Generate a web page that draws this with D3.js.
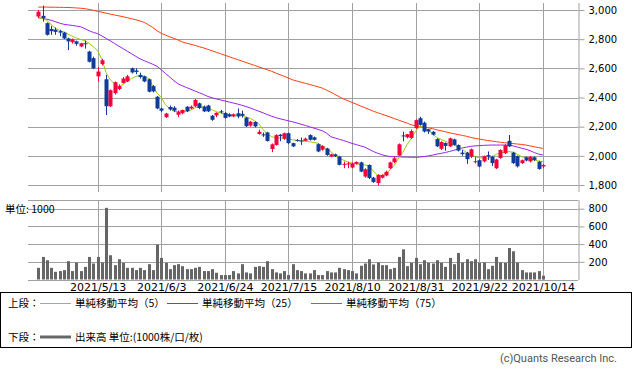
<!DOCTYPE html>
<html><head><meta charset="utf-8">
<script src="https://cdn.jsdelivr.net/npm/d3@7"></script>
<style>body{margin:0;background:#fff}svg{display:block}</style>
</head><body><svg id="c" width="633" height="373"></svg>
<script>
const dates = [
"2021/4/19","2021/4/20","2021/4/21","2021/4/22","2021/4/23","2021/4/26","2021/4/27","2021/4/28","2021/4/30",
"2021/5/6","2021/5/7","2021/5/10","2021/5/11","2021/5/12","2021/5/13","2021/5/14","2021/5/17","2021/5/18","2021/5/19","2021/5/20","2021/5/21","2021/5/24","2021/5/25","2021/5/26","2021/5/27","2021/5/28","2021/5/31",
"2021/6/1","2021/6/2","2021/6/3","2021/6/4","2021/6/7","2021/6/8","2021/6/9","2021/6/10","2021/6/11","2021/6/14","2021/6/15","2021/6/16","2021/6/17","2021/6/18","2021/6/21","2021/6/22","2021/6/23","2021/6/24","2021/6/25","2021/6/28","2021/6/29","2021/6/30",
"2021/7/1","2021/7/2","2021/7/5","2021/7/6","2021/7/7","2021/7/8","2021/7/9","2021/7/12","2021/7/13","2021/7/14","2021/7/15","2021/7/16","2021/7/19","2021/7/20","2021/7/21","2021/7/26","2021/7/27","2021/7/28","2021/7/29","2021/7/30",
"2021/8/2","2021/8/3","2021/8/4","2021/8/5","2021/8/6","2021/8/10","2021/8/11","2021/8/12","2021/8/13","2021/8/16","2021/8/17","2021/8/18","2021/8/19","2021/8/20","2021/8/23","2021/8/24","2021/8/25","2021/8/26","2021/8/27","2021/8/30","2021/8/31",
"2021/9/1","2021/9/2","2021/9/3","2021/9/6","2021/9/7","2021/9/8","2021/9/9","2021/9/10","2021/9/13","2021/9/14","2021/9/15","2021/9/16","2021/9/17","2021/9/21","2021/9/22","2021/9/24","2021/9/27","2021/9/28","2021/9/29","2021/9/30",
"2021/10/1","2021/10/4","2021/10/5","2021/10/6","2021/10/7","2021/10/8","2021/10/11","2021/10/12","2021/10/13","2021/10/14"];

const open  = [2955,2960,2910,2870,2865,2855,2845,2805,2780,2785,2750,2772,2715,2670,2545,2630,2525,2340,2430,2458,2500,2510,2600,2585,2555,2545,2525,2478,2405,2325,2265,2335,2330,2282,2292,2337,2325,2340,2360,2337,2345,2275,2277,2305,2294,2285,2270,2292,2288,2262,2208,2232,2150,2147,2160,2047,2075,2145,2118,2155,2087,2108,2105,2103,2142,2127,2080,2042,2050,1995,2010,1995,1940,1942,1920,1945,1955,1858,1937,1850,1813,1850,1865,1915,1957,2002,2140,2127,2122,2190,2258,2227,2182,2165,2115,2048,2088,2065,2113,2074,2022,2022,1995,1958,1970,1962,2005,1994,1915,1985,2018,2103,2022,1998,1950,1990,1962,1990,1960,1927];
const high  = [3000,3030,2915,2890,2880,2865,2850,2810,2805,2790,2775,2790,2720,2680,2610,2665,2555,2455,2510,2490,2540,2555,2605,2600,2570,2550,2530,2485,2410,2330,2295,2345,2340,2310,2318,2340,2345,2390,2365,2345,2350,2280,2298,2315,2300,2292,2290,2325,2310,2268,2240,2238,2180,2160,2165,2085,2148,2150,2160,2160,2090,2115,2125,2125,2148,2132,2085,2072,2055,2015,2015,2000,1960,1960,1955,1962,1960,1915,1942,1855,1875,1872,1898,1960,1995,2085,2165,2150,2180,2250,2268,2235,2185,2170,2120,2100,2092,2125,2118,2078,2040,2028,2050,1995,1975,2002,2030,2000,1980,2045,2080,2143,2028,2002,1975,1995,1998,1996,1965,1945];
const low   = [2945,2920,2825,2830,2830,2820,2800,2725,2770,2755,2745,2735,2640,2595,2510,2620,2280,2335,2420,2450,2495,2505,2565,2560,2530,2505,2435,2435,2320,2300,2260,2310,2300,2265,2285,2300,2320,2335,2320,2300,2300,2240,2265,2290,2255,2265,2265,2258,2262,2198,2200,2195,2145,2130,2098,2025,2070,2100,2110,2080,2060,2098,2075,2100,2105,2105,2025,2035,2000,1990,1992,1935,1915,1915,1915,1940,1888,1850,1840,1815,1797,1845,1860,1910,1950,2000,2100,2120,2115,2185,2208,2160,2150,2140,2060,2040,2035,2060,2070,2030,2000,1945,1985,1948,1922,1955,1972,1930,1910,1980,2012,2060,1945,1920,1945,1962,1955,1965,1905,1915];
const close = [2988,2945,2830,2855,2850,2845,2805,2785,2800,2768,2772,2765,2645,2600,2578,2655,2340,2450,2505,2478,2530,2545,2572,2575,2540,2510,2440,2442,2325,2310,2290,2318,2310,2300,2314,2305,2337,2383,2328,2305,2305,2247,2295,2300,2260,2270,2285,2270,2275,2203,2234,2202,2165,2140,2102,2079,2142,2135,2155,2087,2065,2103,2100,2118,2110,2110,2030,2068,2006,2010,1998,1938,1945,1948,1948,1958,1892,1908,1848,1820,1868,1868,1890,1955,1983,2079,2135,2148,2170,2245,2212,2167,2167,2145,2065,2095,2068,2120,2075,2036,2012,1977,2045,1963,1927,1998,1995,1950,1975,2040,2073,2065,1950,1928,1970,1968,1993,1972,1910,1937];
const volume = [132,255,218,132,87,95,106,207,95,192,95,143,255,181,255,192,810,274,162,229,188,132,132,106,132,106,173,106,394,244,188,117,162,173,151,117,117,132,143,95,95,117,76,50,50,50,95,69,173,80,69,143,151,143,207,117,80,69,95,50,173,106,95,69,69,106,50,50,95,80,80,132,117,106,95,69,155,181,229,170,192,162,162,117,132,255,341,151,188,244,173,218,188,181,218,188,143,244,173,300,192,229,207,229,188,192,117,155,255,192,188,356,319,192,106,80,80,80,95,43];
const ma5 = [2947,2940,2931,2900,2875,2860,2850,2835,2820,2808,2798,2790,2770,2748,2720,2660,2570,2520,2495,2475,2490,2515,2530,2545,2550,2545,2530,2480,2430,2400,2350,2325,2305,2303,2305,2307,2315,2330,2337,2335,2330,2315,2303,2295,2285,2280,2278,2277,2275,2265,2257,2240,2220,2180,2150,2131,2125,2122,2120,2115,2110,2106,2103,2100,2097,2092,2086,2065,2048,2030,2000,1985,1970,1958,1950,1945,1940,1938,1930,1895,1868,1865,1880,1905,1937,1985,2025,2080,2120,2170,2205,2195,2177,2150,2125,2112,2100,2088,2075,2063,2045,2022,2010,1995,1987,1985,1983,1995,2010,2020,2025,2029,2025,2010,1994,1985,1978,1971,1965,1960];
const ma25 = [2947,2942,2937,2930,2920,2910,2902,2898,2894,2890,2885,2872,2858,2846,2838,2822,2805,2788,2770,2752,2735,2717,2700,2682,2665,2652,2640,2628,2614,2590,2565,2540,2515,2493,2480,2468,2456,2444,2432,2420,2407,2398,2390,2383,2376,2369,2362,2355,2347,2338,2328,2317,2306,2295,2283,2272,2262,2254,2247,2240,2233,2225,2217,2208,2199,2190,2181,2172,2155,2131,2122,2113,2105,2095,2085,2077,2068,2060,2045,2030,2018,2008,2000,1995,1994,1993,1992,1991,1990,1990,1992,1995,2000,2005,2012,2017,2023,2030,2038,2046,2054,2060,2065,2068,2070,2072,2073,2074,2074,2074,2074,2073,2068,2060,2052,2045,2035,2022,2012,2006];
const ma75 = [3020,3020,3020,3019,3019,3018,3018,3017,3016,3014,3012,3009,3004,2998,2991,2985,2978,2972,2966,2960,2954,2947,2940,2933,2925,2915,2898,2880,2858,2840,2828,2816,2805,2794,2780,2772,2765,2757,2748,2740,2730,2720,2710,2700,2690,2680,2670,2660,2650,2640,2630,2620,2610,2600,2590,2580,2568,2556,2545,2533,2521,2513,2505,2497,2489,2481,2473,2464,2450,2436,2420,2405,2390,2378,2366,2354,2342,2330,2318,2306,2296,2286,2276,2266,2255,2245,2234,2224,2212,2206,2202,2198,2192,2186,2178,2172,2165,2158,2152,2146,2140,2134,2126,2120,2115,2110,2105,2101,2097,2093,2090,2087,2084,2081,2078,2074,2068,2062,2056,2051];

const priceTicks = [1800,2000,2200,2400,2600,2800,3000];
const volumeTicks = [200,400,600,800];
const dateTicks = ["2021/5/13","2021/6/3","2021/6/24","2021/7/15","2021/8/10","2021/8/31","2021/9/22","2021/10/14"];

const upColor = "#f5003d", downColor = "#0f3c9b", gridColor = "#a0a0a0";
const maColors = ["#99cc00", "#9922ee", "#ff4010"];
const left = 28, right = 578;

const svg = d3.select("#c");
const x = d3.scalePoint().domain(dates).range([38.3, 542.9]);
const yP = d3.scaleLinear().domain([1800, 3000]).range([185, 10]);
const yV = d3.scaleLinear().domain([0, 800]).range([279.5, 208.7]);
const px = v => Math.round(v) + 0.5;

// ---- price panel grid ----
const gP = svg.append("g");
gP.selectAll(".hg").data(priceTicks).join("line")
  .attr("x1", left).attr("x2", right).attr("y1", d => px(yP(d))).attr("y2", d => px(yP(d)))
  .attr("stroke", gridColor);
gP.selectAll(".vg").data(dateTicks).join("line")
  .attr("x1", d => px(x(d))).attr("x2", d => px(x(d))).attr("y1", 3).attr("y2", 192)
  .attr("stroke", gridColor);
const axP = svg.append("g").attr("transform", `translate(${px(right)},0)`)
  .call(d3.axisRight(yP).tickValues(priceTicks).tickFormat(d3.format(",")).tickSize(6).tickPadding(4));
axP.select(".domain").attr("stroke", gridColor).attr("d", "M0.5,3V192");
axP.selectAll(".tick line").attr("stroke", gridColor);
axP.selectAll(".tick text").attr("font-family", "DejaVu Sans").attr("font-size", 10).attr("fill", "#000");

// ---- volume panel grid ----
const gV = svg.append("g");
svg.append("text").attr("x", 5).attr("y", 213).attr("font-family", "Noto Sans CJK JP").attr("font-size", 10.5).text("単位: 1000");
gV.selectAll(".hg").data([0, ...volumeTicks]).join("line")
  .attr("x1", left).attr("x2", right).attr("y1", d => px(yV(d))).attr("y2", d => px(yV(d)))
  .attr("stroke", gridColor);
gV.append("line").attr("x1", left).attr("x2", right).attr("y1", 200.5).attr("y2", 200.5).attr("stroke", gridColor);
gV.selectAll(".vg").data(dateTicks).join("line")
  .attr("x1", d => px(x(d))).attr("x2", d => px(x(d))).attr("y1", 200).attr("y2", 280)
  .attr("stroke", gridColor);
const axV = svg.append("g").attr("transform", `translate(${px(right)},0)`)
  .call(d3.axisRight(yV).tickValues(volumeTicks).tickSize(6).tickPadding(4));
axV.select(".domain").attr("stroke", gridColor).attr("d", "M0.5,200V280");
axV.selectAll(".tick line").attr("stroke", gridColor);
axV.selectAll(".tick text").attr("font-family", "DejaVu Sans").attr("font-size", 10).attr("fill", "#000");

// ---- x axis labels ----
svg.append("g").attr("transform", "translate(0,280)")
  .call(d3.axisBottom(x).tickValues(dateTicks).tickSize(0).tickPadding(3))
  .call(g => g.select(".domain").remove())
  .selectAll("text").attr("font-family", "DejaVu Sans").attr("font-size", 11).attr("fill", "#000");

// ---- volume bars ----
svg.append("g").selectAll("rect").data(dates).join("rect")
  .attr("x", d => Math.round(x(d)) - 1).attr("width", 3)
  .attr("y", (d, i) => yV(volume[i])).attr("height", (d, i) => yV(0) - yV(volume[i]))
  .attr("fill", "#666");

// ---- moving averages ----
[ma75, ma25, ma5].forEach((arr, k) => {
  const col = maColors[2 - k];
  svg.append("path").datum(arr)
    .attr("d", d3.line().x((d, i) => x(dates[i])).y(d => yP(d)))
    .attr("fill", "none").attr("stroke", col).attr("stroke-width", 1);
});

// ---- candles ----
const gc = svg.append("g");
dates.forEach((d, i) => {
  const up = close[i] >= open[i];
  const col = up ? upColor : downColor;
  const cx = Math.round(x(d)) + 0.5;
  gc.append("line").attr("x1", cx).attr("x2", cx).attr("y1", yP(high[i])).attr("y2", yP(low[i]))
    .attr("stroke", col).attr("stroke-width", 1);
  const y1 = yP(Math.max(open[i], close[i])), y2 = yP(Math.min(open[i], close[i]));
  gc.append("rect").attr("x", cx - 2).attr("width", 4)
    .attr("y", y1).attr("height", Math.max(1, y2 - y1)).attr("fill", col);
});

// ---- legend ----
svg.append("rect").attr("x", 0.5).attr("y", 292.5).attr("width", 631).attr("height", 55)
  .attr("fill", "none").attr("stroke", "#000");
const lf = "Noto Sans CJK JP";
const leg = svg.append("g").attr("font-family", lf).attr("font-size", 10.5).attr("fill", "#000");
leg.append("text").attr("x", 8).attr("y", 307).text("上段：");
const items = [["単純移動平均（5）", 40], ["単純移動平均（25）", 167], ["単純移動平均（75）", 311]];
items.forEach(([t, x0], k) => {
  leg.append("line").attr("x1", x0).attr("x2", x0 + 31).attr("y1", 303.5).attr("y2", 303.5)
    .attr("stroke", maColors[k]).attr("stroke-width", 1);
  leg.append("text").attr("x", x0 + 35).attr("y", 307).text(t);
});
leg.append("text").attr("x", 8).attr("y", 341).text("下段：");
leg.append("line").attr("x1", 40).attr("x2", 71).attr("y1", 337).attr("y2", 337)
  .attr("stroke", "#666").attr("stroke-width", 3);
leg.append("text").attr("x", 75).attr("y", 341).text("出来高 単位:(1000株/口/枚)");

svg.append("text").attr("x", 617).attr("y", 362).attr("text-anchor", "end")
  .attr("font-family", "Roboto").attr("font-size", 11).attr("fill", "#555")
  .text("(c)Quants Research Inc.");
</script></body></html>
